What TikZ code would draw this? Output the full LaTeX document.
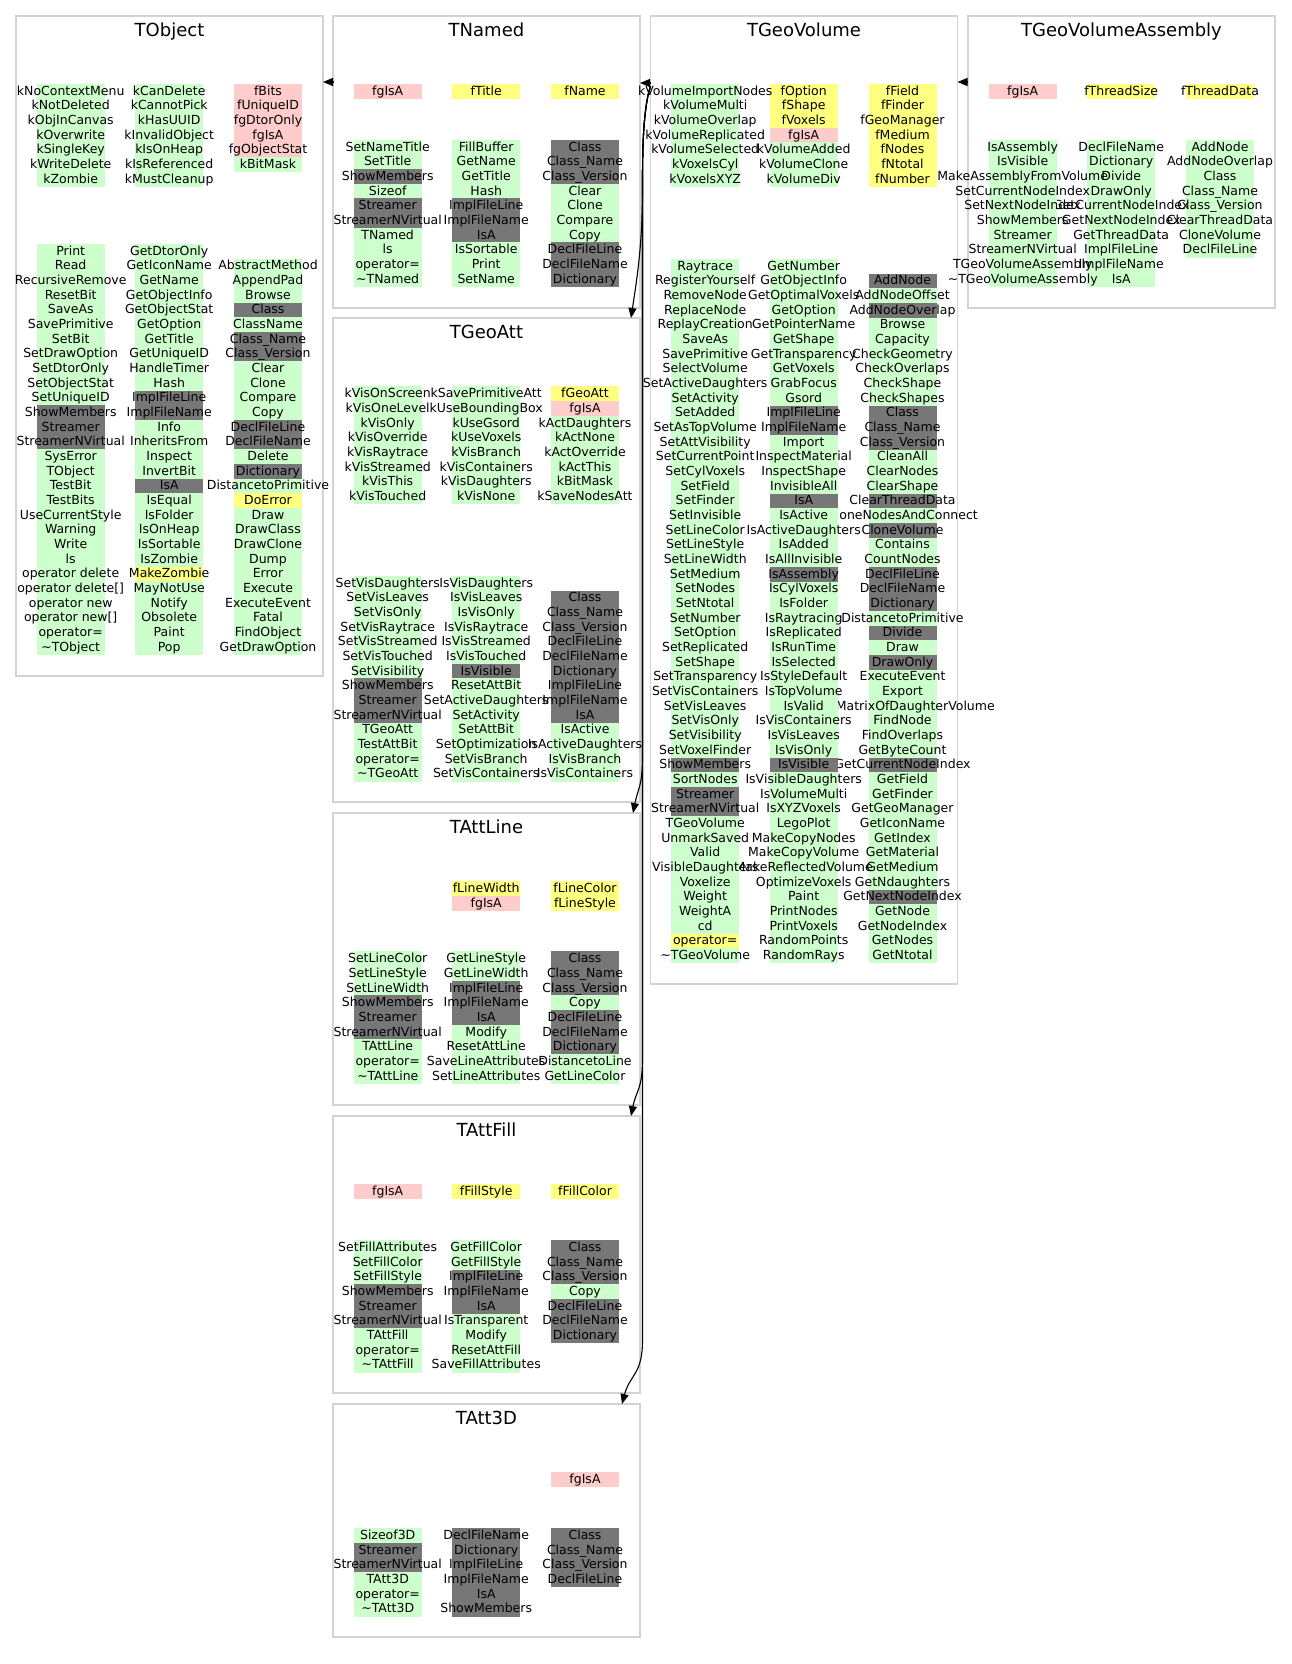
\documentclass[tikz,border=0pt]{standalone}
\usepackage{fontspec}
\setmainfont{DejaVu Sans}
\usetikzlibrary{arrows.meta}
\definecolor{cG}{HTML}{CCFFCC}
\definecolor{cP}{HTML}{FFCCCC}
\definecolor{cY}{HTML}{FFFF80}
\definecolor{cD}{HTML}{777777}
\definecolor{cB}{HTML}{D3D3D3}
\newcommand\tld{\textasciitilde}
\newcommand\clcol[4]{%
  \foreach [count=\i] \bgc/\lab in {#4} {%
    \pgfmathsetmacro\yy{#3+(\i-1)*14.67}%
    \fill[\bgc] ({#2-34},{\yy-0.2}) rectangle ({#2+34},{\yy+14.87});%
    \node[txt] (#1-\i) at (#2,{\yy+11.1}) {\lab};%
  }%
}
\tikzset{
  cluster/.style={draw=cB, line width=1.3pt, rectangle, minimum width=307pt, anchor=north west, inner sep=0pt, outer sep=0pt},
  ttl/.style={font=\fontsize{18}{21}\selectfont, anchor=base, inner sep=0pt},
  txt/.style={font=\fontsize{12.5}{15}\selectfont, anchor=base, inner sep=0pt},
  inh/.style={-{Triangle[length=10pt,width=8pt]}, line width=1.1pt, black},
}
\begin{document}
\begin{tikzpicture}[x=1pt,y=-1pt]
\useasboundingbox (0,0) rectangle (1291,1664);
\fill[white] (0,0) rectangle (1291,1664);

% ---------------- TObject ----------------
\node[cluster, minimum height=660pt] (cObj) at (16,16) {};
\node[ttl] (tObj) at (169.5,36.7) {TObject};
\clcol{oA3}{268}{84}{cP/fBits, cP/fUniqueID, cP/fgDtorOnly, cP/fgIsA, cP/fgObjectStat, cG/kBitMask}
\clcol{oA2}{169.2}{84}{cG/kCanDelete, cG/kCannotPick, cG/kHasUUID, cG/kInvalidObject, cG/kIsOnHeap, cG/kIsReferenced, cG/kMustCleanup}
\clcol{oA1}{70.7}{84}{cG/kNoContextMenu, cG/kNotDeleted, cG/kObjInCanvas, cG/kOverwrite, cG/kSingleKey, cG/kWriteDelete, cG/kZombie}
\clcol{oB3}{268}{258.7}{cG/AbstractMethod, cG/AppendPad, cG/Browse, cD/Class, cG/ClassName, cD/Class\_Name, cD/Class\_Version, cG/Clear, cG/Clone, cG/Compare, cG/Copy, cD/DeclFileLine, cD/DeclFileName, cG/Delete, cD/Dictionary, cG/DistancetoPrimitive, cY/DoError, cG/Draw, cG/DrawClass, cG/DrawClone, cG/Dump, cG/Error, cG/Execute, cG/ExecuteEvent, cG/Fatal, cG/FindObject, cG/GetDrawOption}
\clcol{oB2}{169.2}{244}{cG/GetDtorOnly, cG/GetIconName, cG/GetName, cG/GetObjectInfo, cG/GetObjectStat, cG/GetOption, cG/GetTitle, cG/GetUniqueID, cG/HandleTimer, cG/Hash, cD/ImplFileLine, cD/ImplFileName, cG/Info, cG/InheritsFrom, cG/Inspect, cG/InvertBit, cD/IsA, cG/IsEqual, cG/IsFolder, cG/IsOnHeap, cG/IsSortable, cG/IsZombie, cY/MakeZombie, cG/MayNotUse, cG/Notify, cG/Obsolete, cG/Paint, cG/Pop}
\clcol{oB1}{70.7}{244}{cG/Print, cG/Read, cG/RecursiveRemove, cG/ResetBit, cG/SaveAs, cG/SavePrimitive, cG/SetBit, cG/SetDrawOption, cG/SetDtorOnly, cG/SetObjectStat, cG/SetUniqueID, cD/ShowMembers, cD/Streamer, cD/StreamerNVirtual, cG/SysError, cG/TObject, cG/TestBit, cG/TestBits, cG/UseCurrentStyle, cG/Warning, cG/Write, cG/ls, cG/{operator delete}, cG/{operator delete[]}, cG/{operator new}, cG/{operator new[]}, cG/operator=, cG/\tld TObject}

% ---------------- TNamed ----------------
\node[cluster, minimum height=292pt] (cNamed) at (333,16) {};
\node[ttl] (tNamed) at (486.5,36.7) {TNamed};
\clcol{nA3}{585}{84}{cY/fName}
\clcol{nA2}{486.2}{84}{cY/fTitle}
\clcol{nA1}{387.7}{84}{cP/fgIsA}
\clcol{nB3}{585}{140}{cD/Class, cD/Class\_Name, cD/Class\_Version, cG/Clear, cG/Clone, cG/Compare, cG/Copy, cD/DeclFileLine, cD/DeclFileName, cD/Dictionary}
\clcol{nB2}{486.2}{140}{cG/FillBuffer, cG/GetName, cG/GetTitle, cG/Hash, cD/ImplFileLine, cD/ImplFileName, cD/IsA, cG/IsSortable, cG/Print, cG/SetName}
\clcol{nB1}{387.7}{140}{cG/SetNameTitle, cG/SetTitle, cD/ShowMembers, cG/Sizeof, cD/Streamer, cD/StreamerNVirtual, cG/TNamed, cG/ls, cG/operator=, cG/\tld TNamed}

% ---------------- TGeoAtt ----------------
\node[cluster, minimum height=484pt] (cGeoAtt) at (333,318) {};
\node[ttl] (tGeoAttT) at (486.5,338.7) {TGeoAtt};
\clcol{aA3}{585}{386.6}{cY/fGeoAtt, cP/fgIsA, cG/kActDaughters, cG/kActNone, cG/kActOverride, cG/kActThis, cG/kBitMask, cG/kSaveNodesAtt}
\clcol{aA2}{486.2}{386.6}{cG/kSavePrimitiveAtt, cG/kUseBoundingBox, cG/kUseGsord, cG/kUseVoxels, cG/kVisBranch, cG/kVisContainers, cG/kVisDaughters, cG/kVisNone}
\clcol{aA1}{387.7}{386.6}{cG/kVisOnScreen, cG/kVisOneLevel, cG/kVisOnly, cG/kVisOverride, cG/kVisRaytrace, cG/kVisStreamed, cG/kVisThis, cG/kVisTouched}
\clcol{aB3}{585}{590.7}{cD/Class, cD/Class\_Name, cD/Class\_Version, cD/DeclFileLine, cD/DeclFileName, cD/Dictionary, cD/ImplFileLine, cD/ImplFileName, cD/IsA, cG/IsActive, cG/IsActiveDaughters, cG/IsVisBranch, cG/IsVisContainers}
\clcol{aB2}{486.2}{576}{cG/IsVisDaughters, cG/IsVisLeaves, cG/IsVisOnly, cG/IsVisRaytrace, cG/IsVisStreamed, cG/IsVisTouched, cD/IsVisible, cG/ResetAttBit, cG/SetActiveDaughters, cG/SetActivity, cG/SetAttBit, cG/SetOptimization, cG/SetVisBranch, cG/SetVisContainers}
\clcol{aB1}{387.7}{576}{cG/SetVisDaughters, cG/SetVisLeaves, cG/SetVisOnly, cG/SetVisRaytrace, cG/SetVisStreamed, cG/SetVisTouched, cG/SetVisibility, cD/ShowMembers, cD/Streamer, cD/StreamerNVirtual, cG/TGeoAtt, cG/TestAttBit, cG/operator=, cG/\tld TGeoAtt}

% ---------------- TAttLine ----------------
\node[cluster, minimum height=292pt] (cAttLine) at (333,813) {};
\node[ttl] (tAttLineT) at (486.5,833.7) {TAttLine};
\clcol{lA3}{585}{881.6}{cY/fLineColor, cY/fLineStyle}
\clcol{lA2}{486.2}{881.6}{cY/fLineWidth, cP/fgIsA}
\clcol{lB3}{585}{951.6}{cD/Class, cD/Class\_Name, cD/Class\_Version, cG/Copy, cD/DeclFileLine, cD/DeclFileName, cD/Dictionary, cG/DistancetoLine, cG/GetLineColor}
\clcol{lB2}{486.2}{951.6}{cG/GetLineStyle, cG/GetLineWidth, cD/ImplFileLine, cD/ImplFileName, cD/IsA, cG/Modify, cG/ResetAttLine, cG/SaveLineAttributes, cG/SetLineAttributes}
\clcol{lB1}{387.7}{951.6}{cG/SetLineColor, cG/SetLineStyle, cG/SetLineWidth, cD/ShowMembers, cD/Streamer, cD/StreamerNVirtual, cG/TAttLine, cG/operator=, cG/\tld TAttLine}

% ---------------- TAttFill ----------------
\node[cluster, minimum height=277pt] (cAttFill) at (333,1116) {};
\node[ttl] (tAttFillT) at (486.5,1136.7) {TAttFill};
\clcol{fA3}{585}{1184.5}{cY/fFillColor}
\clcol{fA2}{486.2}{1184.5}{cY/fFillStyle}
\clcol{fA1}{387.7}{1184.5}{cP/fgIsA}
\clcol{fB3}{585}{1240.5}{cD/Class, cD/Class\_Name, cD/Class\_Version, cG/Copy, cD/DeclFileLine, cD/DeclFileName, cD/Dictionary}
\clcol{fB2}{486.2}{1240.5}{cG/GetFillColor, cG/GetFillStyle, cD/ImplFileLine, cD/ImplFileName, cD/IsA, cG/IsTransparent, cG/Modify, cG/ResetAttFill, cG/SaveFillAttributes}
\clcol{fB1}{387.7}{1240.5}{cG/SetFillAttributes, cG/SetFillColor, cG/SetFillStyle, cD/ShowMembers, cD/Streamer, cD/StreamerNVirtual, cG/TAttFill, cG/operator=, cG/\tld TAttFill}

% ---------------- TAtt3D ----------------
\node[cluster, minimum height=233pt] (cAtt3D) at (333,1404) {};
\node[ttl] (tAtt3DT) at (486.5,1424.7) {TAtt3D};
\clcol{dA3}{585}{1472.5}{cP/fgIsA}
\clcol{dB3}{585}{1528.5}{cD/Class, cD/Class\_Name, cD/Class\_Version, cD/DeclFileLine}
\clcol{dB2}{486.2}{1528.5}{cD/DeclFileName, cD/Dictionary, cD/ImplFileLine, cD/ImplFileName, cD/IsA, cD/ShowMembers}
\clcol{dB1}{387.7}{1528.5}{cG/Sizeof3D, cD/Streamer, cD/StreamerNVirtual, cG/TAtt3D, cG/operator=, cG/\tld TAtt3D}

% ---------------- TGeoVolume ----------------
\node[cluster, minimum height=968pt] (cGeoVol) at (650.5,16) {};
\node[ttl] (tGeoVolT) at (804,36.7) {TGeoVolume};
\clcol{vA3}{902.5}{84}{cY/fField, cY/fFinder, cY/fGeoManager, cY/fMedium, cY/fNodes, cY/fNtotal, cY/fNumber}
\clcol{vA2}{803.7}{84}{cY/fOption, cY/fShape, cY/fVoxels, cP/fgIsA, cG/kVolumeAdded, cG/kVolumeClone, cG/kVolumeDiv}
\clcol{vA1}{705.2}{84}{cG/kVolumeImportNodes, cG/kVolumeMulti, cG/kVolumeOverlap, cG/kVolumeReplicated, cG/kVolumeSelected, cG/kVoxelsCyl, cG/kVoxelsXYZ}
\clcol{vB3}{902.5}{273.7}{cD/AddNode, cG/AddNodeOffset, cD/AddNodeOverlap, cG/Browse, cG/Capacity, cG/CheckGeometry, cG/CheckOverlaps, cG/CheckShape, cG/CheckShapes, cD/Class, cD/Class\_Name, cD/Class\_Version, cG/CleanAll, cG/ClearNodes, cG/ClearShape, cD/ClearThreadData, cG/CloneNodesAndConnect, cD/CloneVolume, cG/Contains, cG/CountNodes, cD/DeclFileLine, cD/DeclFileName, cD/Dictionary, cG/DistancetoPrimitive, cD/Divide, cG/Draw, cD/DrawOnly, cG/ExecuteEvent, cG/Export, cG/FindMatrixOfDaughterVolume, cG/FindNode, cG/FindOverlaps, cG/GetByteCount, cD/GetCurrentNodeIndex, cG/GetField, cG/GetFinder, cG/GetGeoManager, cG/GetIconName, cG/GetIndex, cG/GetMaterial, cG/GetMedium, cG/GetNdaughters, cD/GetNextNodeIndex, cG/GetNode, cG/GetNodeIndex, cG/GetNodes, cG/GetNtotal}
\clcol{vB2}{803.7}{259}{cG/GetNumber, cG/GetObjectInfo, cG/GetOptimalVoxels, cG/GetOption, cG/GetPointerName, cG/GetShape, cG/GetTransparency, cG/GetVoxels, cG/GrabFocus, cG/Gsord, cD/ImplFileLine, cD/ImplFileName, cG/Import, cG/InspectMaterial, cG/InspectShape, cG/InvisibleAll, cD/IsA, cG/IsActive, cG/IsActiveDaughters, cG/IsAdded, cG/IsAllInvisible, cD/IsAssembly, cG/IsCylVoxels, cG/IsFolder, cG/IsRaytracing, cG/IsReplicated, cG/IsRunTime, cG/IsSelected, cG/IsStyleDefault, cG/IsTopVolume, cG/IsValid, cG/IsVisContainers, cG/IsVisLeaves, cG/IsVisOnly, cD/IsVisible, cG/IsVisibleDaughters, cG/IsVolumeMulti, cG/IsXYZVoxels, cG/LegoPlot, cG/MakeCopyNodes, cG/MakeCopyVolume, cG/MakeReflectedVolume, cG/OptimizeVoxels, cG/Paint, cG/PrintNodes, cG/PrintVoxels, cG/RandomPoints, cG/RandomRays}
\clcol{vB1}{705.2}{259}{cG/Raytrace, cG/RegisterYourself, cG/RemoveNode, cG/ReplaceNode, cG/ReplayCreation, cG/SaveAs, cG/SavePrimitive, cG/SelectVolume, cG/SetActiveDaughters, cG/SetActivity, cG/SetAdded, cG/SetAsTopVolume, cG/SetAttVisibility, cG/SetCurrentPoint, cG/SetCylVoxels, cG/SetField, cG/SetFinder, cG/SetInvisible, cG/SetLineColor, cG/SetLineStyle, cG/SetLineWidth, cG/SetMedium, cG/SetNodes, cG/SetNtotal, cG/SetNumber, cG/SetOption, cG/SetReplicated, cG/SetShape, cG/SetTransparency, cG/SetVisContainers, cG/SetVisLeaves, cG/SetVisOnly, cG/SetVisibility, cG/SetVoxelFinder, cD/ShowMembers, cG/SortNodes, cD/Streamer, cD/StreamerNVirtual, cG/TGeoVolume, cG/UnmarkSaved, cG/Valid, cG/VisibleDaughters, cG/Voxelize, cG/Weight, cG/WeightA, cG/cd, cY/operator=, cG/\tld TGeoVolume}

% ---------------- TGeoVolumeAssembly ----------------
\node[cluster, minimum height=292pt] (cGVA) at (968,16) {};
\node[ttl] (tGVA) at (1121.5,36.7) {TGeoVolumeAssembly};
\clcol{sA3}{1220}{84}{cY/fThreadData}
\clcol{sA2}{1121.2}{84}{cY/fThreadSize}
\clcol{sA1}{1022.7}{84}{cP/fgIsA}
\clcol{sB3}{1220}{140}{cG/AddNode, cG/AddNodeOverlap, cG/Class, cG/Class\_Name, cG/Class\_Version, cG/ClearThreadData, cG/CloneVolume, cG/DeclFileLine}
\clcol{sB2}{1121.2}{140}{cG/DeclFileName, cG/Dictionary, cG/Divide, cG/DrawOnly, cG/GetCurrentNodeIndex, cG/GetNextNodeIndex, cG/GetThreadData, cG/ImplFileLine, cG/ImplFileName, cG/IsA}
\clcol{sB1}{1022.7}{140}{cG/IsAssembly, cG/IsVisible, cG/MakeAssemblyFromVolume, cG/SetCurrentNodeIndex, cG/SetNextNodeIndex, cG/ShowMembers, cG/Streamer, cG/StreamerNVirtual, cG/TGeoVolumeAssembly, cG/\tld TGeoVolumeAssembly}

% ---------------- inheritance connectors ----------------
\coordinate (gvs) at ([yshift=-70pt]cGeoVol.north west);
\coordinate (tipGeoAtt) at ([xshift=-9pt]cGeoAtt.north east);
\coordinate (tipAttLine) at ([xshift=-7pt]cAttLine.north east);
\coordinate (tipAttFill) at ([xshift=-9pt]cAttFill.north east);
\coordinate (tipAtt3D) at ([xshift=-18pt]cAtt3D.north east);

\draw[inh] ([yshift=-66pt]cNamed.north west) -- ([yshift=-66pt]cObj.north east);
\draw[inh] ([yshift=-67pt]cGeoVol.north west) -- ([yshift=-67pt]cNamed.north east);
\draw[inh] ([yshift=-66pt]cGVA.north west) -- ([yshift=-66pt]cGeoVol.north east);

\draw[inh] (gvs) .. controls +(-8,25) and +(0,-30) .. ++(-8,100) .. controls +(0,60) and +(6,-40) .. (tipGeoAtt);
\draw[inh] (gvs) .. controls +(-8,25) and +(0,-30) .. ++(-8,100) -- ++(0,570) .. controls +(0,30) and +(5,-25) .. (tipAttLine);
\draw[inh] (gvs) .. controls +(-8,25) and +(0,-30) .. ++(-8,100) -- ++(0,873) .. controls +(0,30) and +(5,-25) .. (tipAttFill);
\draw[inh] (gvs) .. controls +(-8,25) and +(0,-30) .. ++(-8,100) -- ++(0,1154) .. controls +(0,35) and +(8,-30) .. (tipAtt3D);
\end{tikzpicture}
\end{document}
